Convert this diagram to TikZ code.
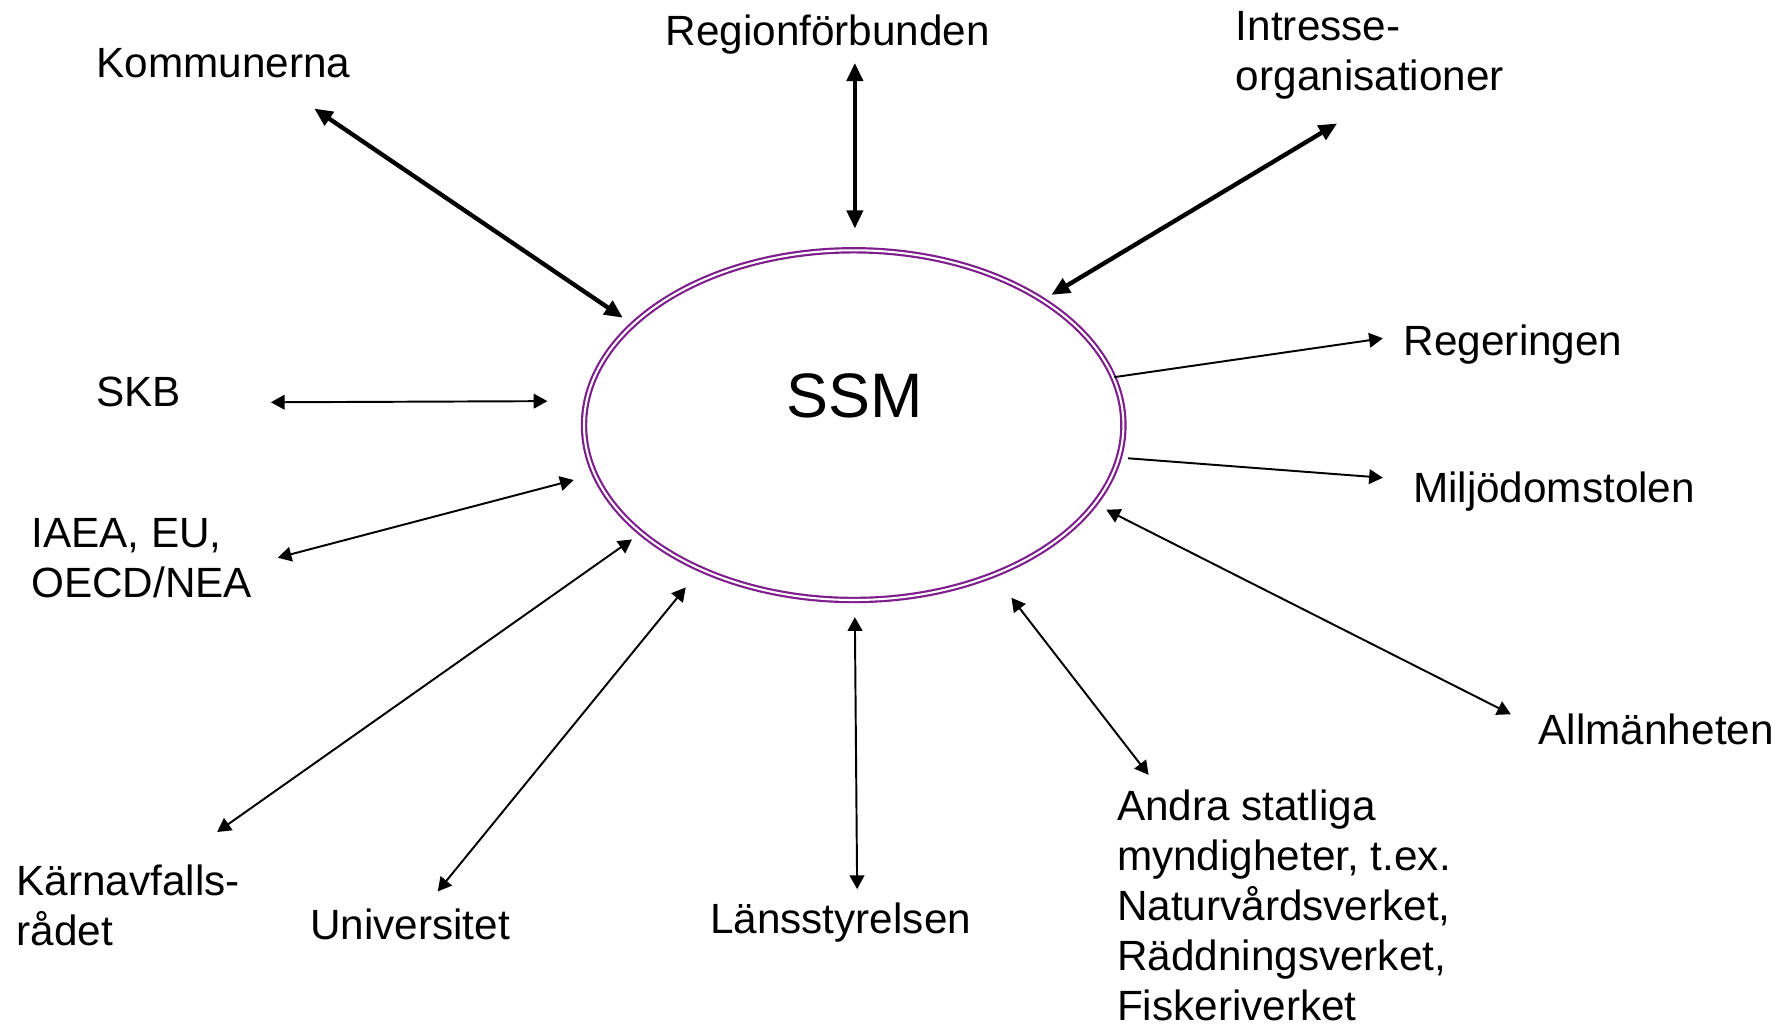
\documentclass[tikz,border=0pt]{standalone}
\usepackage{fontspec}
\setmainfont{Liberation Sans}
\usetikzlibrary{arrows.meta,shapes.geometric}
\definecolor{ssmpurple}{RGB}{125,30,140}
\begin{document}
\begin{tikzpicture}[x=0.5pt,y=-0.5pt,
  lbl/.style={inner sep=0pt, anchor=base west, font=\fontsize{18.5}{21.9}\selectfont, align=left},
  thickarrow/.style={line width=1.9pt, {Triangle[length=8pt,width=7pt]}-{Triangle[length=8pt,width=7pt]}},
  thinarrow/.style={line width=0.85pt, {Triangle[length=6pt,width=6.4pt]}-{Triangle[length=6pt,width=6.4pt]}},
  onearrow/.style={line width=0.85pt, -{Triangle[length=6pt,width=6.4pt]}},
  ssmshape/.style={ellipse, draw=ssmpurple, line width=0.95pt, double=white, double distance=0.9pt,
    minimum width=236pt, minimum height=153pt, inner sep=0pt},
]
\useasboundingbox (0,0) rectangle (1568,903);
\node[ssmshape] (ssm) at (747,372) {};
\node[inner sep=0pt, anchor=base west, font=\fontsize{27.5}{33}\selectfont] (ssmtext) at (688,365) {SSM};

\node[lbl] (kom) at (84,68) {Kommunerna};
\node[lbl] (reg) at (582,40) {Regionförbunden};
\node[lbl] (int) at (1081,79) {Intresse-\\organisationer};
\node[lbl] (rgr) at (1228,311) {Regeringen};
\node[lbl] (mil) at (1236,440) {Miljödomstolen};
\node[lbl] (all) at (1346,651) {Allmänheten};
\node[lbl] (and) at (977,893) {Andra statliga\\myndigheter, t.ex.\\Naturvårdsverket,\\Räddningsverket,\\Fiskeriverket};
\node[lbl] (lan) at (621,817) {Länsstyrelsen};
\node[lbl] (uni) at (271,822) {Universitet};
\node[lbl] (kar) at (14,827) {Kärnavfalls-\\rådet};
\node[lbl] (iaea) at (27,523) {IAEA, EU,\\OECD/NEA};
\node[lbl] (skb) at (84,356) {SKB};

\coordinate (kom1) at (275,95);   \coordinate (kom2) at (545,278);
\coordinate (reg1) at (748,55);   \coordinate (reg2) at (748,200);
\coordinate (int1) at (1170,108); \coordinate (int2) at (920,258);
\coordinate (rgr1) at (975,330);  \coordinate (rgr2) at (1210,296);
\coordinate (mil1) at (987,401);  \coordinate (mil2) at (1210,418);
\coordinate (all1) at (968,446);  \coordinate (all2) at (1322,625);
\coordinate (and1) at (885,523);  \coordinate (and2) at (1005,678);
\coordinate (lan1) at (748,540);  \coordinate (lan2) at (750,778);
\coordinate (uni1) at (600,514);  \coordinate (uni2) at (383,780);
\coordinate (kar1) at (553,472);  \coordinate (kar2) at (190,728);
\coordinate (iaea1) at (502,420); \coordinate (iaea2) at (243,488);
\coordinate (skb1) at (237,352);  \coordinate (skb2) at (479,351);

\draw[thickarrow] (kom1) -- (kom2);
\draw[thickarrow] (reg1) -- (reg2);
\draw[thickarrow] (int1) -- (int2);
\draw[onearrow] (rgr1) -- (rgr2);
\draw[onearrow] (mil1) -- (mil2);
\draw[thinarrow] (all1) -- (all2);
\draw[thinarrow] (and1) -- (and2);
\draw[thinarrow] (lan1) -- (lan2);
\draw[thinarrow] (uni1) -- (uni2);
\draw[thinarrow] (kar1) -- (kar2);
\draw[thinarrow] (iaea1) -- (iaea2);
\draw[thinarrow] (skb1) -- (skb2);
\end{tikzpicture}
\end{document}
